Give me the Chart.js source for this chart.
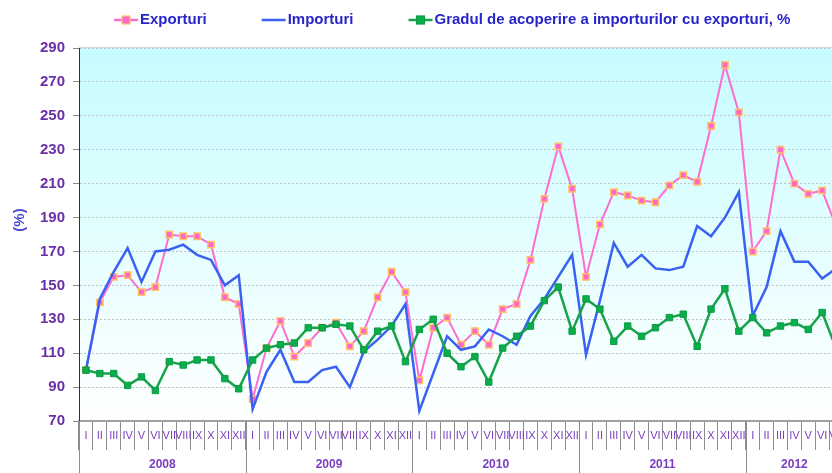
<!DOCTYPE html>
<html><head><meta charset="utf-8">
<script src="https://cdn.jsdelivr.net/npm/chart.js@4.4.1/dist/chart.umd.min.js"></script>
<style>
html,body{margin:0;padding:0;background:#fff;overflow:hidden;}
#wrap{width:832px;height:473px;overflow:hidden;position:relative;}
</style></head><body>
<div id="wrap"><canvas id="c" width="850" height="473"></canvas></div>
<script>
const years = ['2008','2009','2010','2011','2012'];
const monthsPerYear = [12,12,12,12,7];
const monthLabels = ['I','II','III','IV','V','VI','VII','VIII','IX','X','XI','XII'];
const seriesNames = ['Exporturi','Importuri','Gradul de acoperire a importurilor cu exporturi, %'];
const yTitle = '(%)';
const yMin = 70, yMax = 290, yStep = 20;

const exporturi = [
  100,140,155,156,146,149,180,179,179,174,143,139,
  83,113,129,108,116,125,128,114,123,143,158,146,
  94,125,131,115,123,115,136,139,165,201,232,207,
  155,186,205,203,200,199,209,215,211,244,280,252,
  170,182,230,210,204,206,185
];
const importuri = [
  100,142,158,172,152,170,171,174,168,165,150,156,
  77,99,112,93,93,100,102,90,111,118,126,139,
  76,98,120,112,114,124,120,115,132,142,155,168,
  109,141,175,161,168,160,159,161,185,179,190,205,
  132,149,182,164,164,154,160
];
const gradul = [
  100,98,98,91,96,88,105,103,106,106,95,89,
  106,113,115,116,125,125,127,126,112,123,126,105,
  124,130,110,102,108,93,113,120,126,141,149,123,
  142,136,117,126,120,125,131,133,114,136,148,123,
  131,122,126,128,124,134,113
];

const labels = [];
years.forEach((y, yi) => {
  for (let m = 0; m < monthsPerYear[yi]; m++) labels.push(monthLabels[m]);
});

const FONT = '"Liberation Sans", Arial, sans-serif';

const bgPlugin = {
  id: 'bg',
  beforeDraw(chart) {
    const {ctx, chartArea: a} = chart;
    ctx.save();
    ctx.fillStyle = '#fff';
    ctx.fillRect(0, 0, chart.width, chart.height);
    const g = ctx.createLinearGradient(0, a.top, 0, a.bottom);
    g.addColorStop(0, '#c6fcff');
    g.addColorStop(0.55, '#e6feff');
    g.addColorStop(1, '#ffffff');
    ctx.fillStyle = g;
    ctx.fillRect(a.left, a.top, a.right - a.left, a.bottom - a.top);
    ctx.strokeStyle = '#d8d8d8';
    ctx.lineWidth = 1;
    ctx.beginPath();
    ctx.moveTo(a.left, a.top - 0.5); ctx.lineTo(a.right, a.top - 0.5);
    ctx.stroke();
    ctx.restore();
  }
};

const yearPlugin = {
  id: 'years',
  afterDraw(chart) {
    const {ctx, chartArea: a} = chart;
    const xs = chart.scales.x;
    const half = (xs.getPixelForValue(1) - xs.getPixelForValue(0)) / 2;
    ctx.save();
    ctx.strokeStyle = '#8c8c8c';
    ctx.lineWidth = 1;
    ctx.fillStyle = '#7a3fc0';
    ctx.font = 'bold 12px ' + FONT;
    ctx.textAlign = 'center';
    ctx.textBaseline = 'middle';
    let start = 0;
    years.forEach((y, yi) => {
      const end = start + monthsPerYear[yi] - 1;
      const l = xs.getPixelForValue(start) - half;
      const r = xs.getPixelForValue(end) + half;
      ctx.beginPath();
      ctx.moveTo(Math.round(l) + 0.5, a.bottom);
      ctx.lineTo(Math.round(l) + 0.5, chart.height);
      ctx.stroke();
      ctx.fillText(y, (l + r) / 2, 465);
      start = end + 1;
    });
    // y axis title
    ctx.translate(20, 220);
    ctx.rotate(-Math.PI / 2);
    ctx.fillStyle = '#4b4bd0';
    ctx.font = 'bold 15px ' + FONT;
    ctx.fillText(yTitle, 0, 0);
    ctx.restore();
  }
};

const legendPlugin = {
  id: 'customLegend',
  afterDraw(chart) {
    const {ctx} = chart;
    ctx.save();
    ctx.font = 'bold 15px ' + FONT;
    ctx.textBaseline = 'middle';
    ctx.textAlign = 'left';
    let x = 114;
    const y = 20;
    chart.data.datasets.forEach(ds => {
      ctx.strokeStyle = ds.borderColor;
      ctx.lineWidth = 2.5;
      ctx.beginPath();
      ctx.moveTo(x, y); ctx.lineTo(x + 24, y);
      ctx.stroke();
      if (ds.pointRadius > 0) {
        ctx.fillStyle = ds.pointBackgroundColor;
        ctx.strokeStyle = ds.pointBorderColor;
        ctx.lineWidth = 1.2;
        ctx.fillRect(x + 8, y - 4, 8, 8);
        ctx.strokeRect(x + 8, y - 4, 8, 8);
      }
      ctx.fillStyle = '#2626c8';
      ctx.fillText(ds.label, x + 26, y);
      x += 26 + ctx.measureText(ds.label).width + 55;
    });
    ctx.restore();
  }
};

new Chart(document.getElementById('c'), {
  type: 'line',
  data: {
    labels,
    datasets: [
      { label: seriesNames[0], data: exporturi, borderColor: '#ff6ccf', borderWidth: 2,
        pointStyle: 'rect', pointRadius: 4.5, pointBackgroundColor: '#ff66cc',
        pointBorderColor: '#ffc266', pointBorderWidth: 1.5, order: 2 },
      { label: seriesNames[1], data: importuri, borderColor: '#3a62f2', borderWidth: 2.5,
        pointRadius: 0, order: 1 },
      { label: seriesNames[2], data: gradul, borderColor: '#17a349', borderWidth: 2.5,
        pointStyle: 'rect', pointRadius: 4.5, pointBackgroundColor: '#09ad4c',
        pointBorderColor: '#0c9a42', pointBorderWidth: 1, order: 0 }
    ]
  },
  options: {
    responsive: false,
    animation: false,
    devicePixelRatio: 1,
    layout: { padding: { top: 48, right: 7, left: 0, bottom: 0 } },
    plugins: { legend: { display: false }, tooltip: { enabled: false } },
    elements: { line: { tension: 0 } },
    scales: {
      x: {
        type: 'category', offset: true,
        grid: { offset: true, drawOnChartArea: false, tickLength: 29, tickColor: '#8c8c8c', tickWidth: 1 },
        border: { color: '#a0a0a0', width: 2 },
        ticks: { autoSkip: false, maxRotation: 0, minRotation: 0, padding: -21,
                 color: '#7a3fc0', font: { family: FONT, size: 11 } },
        afterFit(s) { s.height = 52; }
      },
      y: {
        min: yMin, max: yMax,
        ticks: { stepSize: yStep, padding: 8, color: '#6a2fa8',
                 font: { family: FONT, size: 15, weight: 'bold' } },
        grid: { color: '#c2c2c2', tickColor: '#8c8c8c', tickLength: 6, tickBorderDash: [] },
        border: { color: '#333', width: 1, dash: [2, 2] },
        title: { display: false },
        afterFit(s) { s.width = 79; }
      }
    }
  },
  plugins: [bgPlugin, yearPlugin, legendPlugin]
});
</script>
</body></html>
